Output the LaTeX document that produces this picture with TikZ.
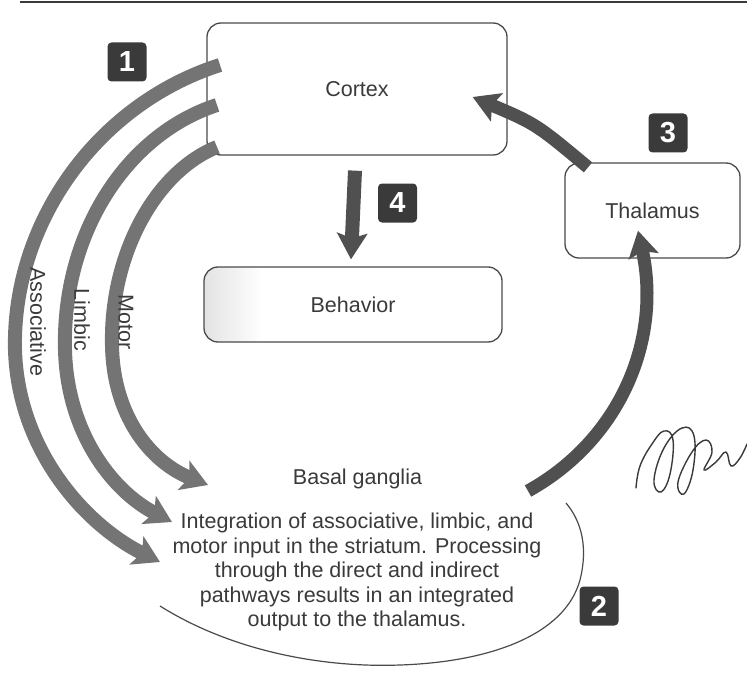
\documentclass[tikz,border=0pt]{standalone}
\usepackage{fontspec}
\setmainfont{Liberation Sans}
\usetikzlibrary{arrows.meta}
\definecolor{ink}{HTML}{3A3A3A}
\definecolor{rim}{HTML}{4A4A4A}
\definecolor{band}{HTML}{747474}
\definecolor{darkband}{HTML}{505050}
\begin{document}
\begin{tikzpicture}[x=1pt,y=-1pt,
  box/.style={draw=rim, line width=1.3pt, rounded corners=14pt, inner sep=0pt,
    font=\fontsize{21.5}{24.5}\selectfont, text=ink},
  lbl/.style={font=\fontsize{21.5}{24.5}\selectfont, text=ink, inner sep=0pt},
  tag/.style={fill=ink, rounded corners=4pt, minimum size=39pt, inner sep=0pt,
    text=white, font=\fontsize{29}{29}\selectfont\bfseries},
  pathway/.style={line width=14pt, draw=band,
    -{Stealth[width=31pt,length=26pt,inset=6pt,fill=band]}},
  relay/.style={line width=13pt, draw=darkband,
    -{Stealth[width=30pt,length=26pt,inset=5pt,fill=darkband]}},
  outline/.style={draw=rim, line width=1.2pt},
]
\useasboundingbox (0,0) rectangle (747,674);

% rule along the top edge
\draw[ink, line width=2.5pt] (20,2) -- (747,2);

% faint shading at the left end of the behavior box
\begin{scope}
  \clip[rounded corners=14pt] (204,267) rectangle (502,342);
  \shade[left color=gray!22, right color=white] (204,267) rectangle (262,342);
\end{scope}

% main boxes
\node[box, minimum width=300pt, minimum height=132pt] (cortex) at (357,89) {Cortex};
\node[box, minimum width=298pt, minimum height=75pt] (behavior) at (353,304.5) {Behavior};
\node[box, minimum width=175pt, minimum height=95pt] (thalamus) at (652.5,210.5) {Thalamus};

% basal ganglia lobe and its text
\draw[outline] (160,606) .. controls (230,650) and (320,668) .. (400,665)
  .. controls (490,662) and (565,635) .. (580,580)
  .. controls (588,548) and (582,522) .. (566,503);
\node[lbl] (bgtitle) at (357.5,479) {Basal ganglia};
\node[lbl, align=center] (bgtext) at (357,572)
  {Integration of associative, limbic, and\\
   motor input in the striatum. Processing\\
   through the direct and indirect\\
   pathways results in an integrated\\
   output to the thalamus.};

% cortical inputs to the striatum
\coordinate (assocIn) at (220,65);
\coordinate (limbIn) at (217,105);
\coordinate (motorIn) at (217,147);
\coordinate (assocOut) at (160,562);
\coordinate (limbOut) at (172,522);
\coordinate (motorOut) at (208,485);
\draw[pathway] (assocIn) .. controls (95,105) and (12,225) .. (15,350)
  .. controls (18,450) and (85,525) .. (assocOut);
\draw[pathway] (limbIn) .. controls (125,135) and (62,235) .. (65,350)
  .. controls (67,430) and (110,490) .. (limbOut);
\draw[pathway] (motorIn) .. controls (155,172) and (110,255) .. (112,345)
  .. controls (113,415) and (150,462) .. (motorOut);

\node[lbl, rotate=-90] (assocLbl) at (38,322) {Associative};
\node[lbl, rotate=-90] (limbLbl) at (82,320) {Limbic};
\node[lbl, rotate=-90] (motorLbl) at (126,322) {Motor};

% output loop: basal ganglia -> thalamus -> cortex -> behavior
\coordinate (bgOut) at (528,491);
\draw[relay] (bgOut) .. controls (620,440) and (662,340) .. ([xshift=-14.5pt,yshift=28pt]thalamus.south);
\draw[relay] ([xshift=-64.5pt,yshift=-5pt]thalamus.north) .. controls (536,124) .. ([xshift=-35pt,yshift=-8pt]cortex.east);
\draw[relay, line width=14pt] ([xshift=-2pt,yshift=-15pt]cortex.south) -- ([xshift=-2pt,yshift=7pt]behavior.north);

% step numbers
\node[tag] (t1) at (127,62) {1};
\node[tag] (t2) at (599,606) {2};
\node[tag] (t3) at (668,133) {3};
\node[tag] (t4) at (397.5,203) {4};

% handwritten initials at the right margin
\draw[ink, line width=1.4pt, line cap=round, line join=round]
  plot[smooth, tension=0.7] coordinates {(636,488) (640,466) (652,444) (664,431)
  (673,440) (670,474) (661,492) (654,480) (664,448) (682,428) (694,436) (693,470)
  (684,494) (678,482) (692,452) (706,440) (712,452) (704,470) (716,462) (726,452)
  (731,466) (740,458) (747,444)};
\end{tikzpicture}
\end{document}
